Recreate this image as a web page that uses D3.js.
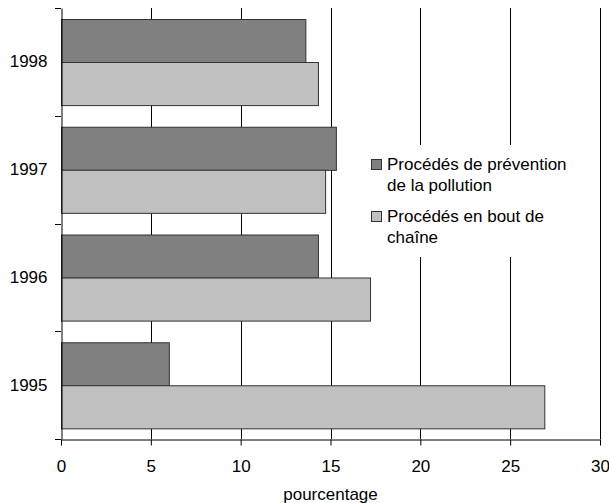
<!DOCTYPE html>
<html>
<head>
<meta charset="utf-8">
<script src="https://cdn.jsdelivr.net/npm/d3@7"></script>
<style>
  body { margin: 0; background: #fff; }
  text { font-family: "Liberation Sans", Arial, sans-serif; font-size: 17px; fill: #000; }
</style>
</head>
<body>
<div id="chart"></div>
<script>
/** Data **/
const years = ['1998', '1997', '1996', '1995'];
const series = ['Procédés de prévention de la pollution', 'Procédés en bout de chaîne'];
const prevention = [13.6, 15.3, 14.3, 6.0];
const endOfPipe = [14.3, 14.7, 17.2, 26.9];
const xTicks = [0, 5, 10, 15, 20, 25, 30];
const legendLines = [['Procédés de prévention', 'de la pollution'], ['Procédés en bout de', 'chaîne']];
const colors = ['#808080', '#c0c0c0'];

const rows = years.map((year, i) => ({ year, values: [prevention[i], endOfPipe[i]] }));

/** Svg **/
const width = 609;
const height = 503;
const margin = { top: 8, right: 9, bottom: 64, left: 61 };
const innerW = width - margin.left - margin.right;
const innerH = height - margin.top - margin.bottom;
const font = '"Liberation Sans", Arial, sans-serif';

const svg = d3
  .select('#chart')
  .append('svg')
  .attr('width', width)
  .attr('height', height);

const g = svg.append('g').attr('transform', `translate(${margin.left}, ${margin.top})`);

/** Scales **/
const x = d3.scaleLinear().domain([0, 30]).range([0, innerW]);
const y0 = d3.scaleBand().domain(years).range([0, innerH]);
const y1 = d3.scaleBand().domain(series).range([0, y0.bandwidth()]).paddingOuter(0.25);

/** Gridlines behind bars **/
g.append('g')
  .selectAll('line')
  .data(xTicks.slice(1))
  .join('line')
  .attr('x1', (d) => Math.round(x(d)) + 0.5)
  .attr('x2', (d) => Math.round(x(d)) + 0.5)
  .attr('y1', 0)
  .attr('y2', innerH)
  .attr('stroke', '#000')
  .attr('stroke-width', 1);

/** Bars **/
g.append('g')
  .selectAll('g')
  .data(rows)
  .join('g')
  .attr('transform', (d) => `translate(0, ${y0(d.year)})`)
  .selectAll('rect')
  .data((d) => d.values.map((v, i) => ({ key: series[i], value: v, i })))
  .join('rect')
  .attr('x', x(0) + 0.5)
  .attr('y', (d) => Math.round(y1(d.key)) + 0.5)
  .attr('width', (d) => x(d.value) - x(0))
  .attr('height', y1.bandwidth())
  .attr('fill', (d) => colors[d.i])
  .attr('stroke', '#333')
  .attr('stroke-width', 1);

/** Axes **/
const xAxis = g
  .append('g')
  .attr('transform', `translate(0, ${Math.round(innerH) + 0.5})`)
  .call(d3.axisBottom(x).tickValues(xTicks).tickSize(6).tickPadding(14).tickSizeOuter(0));
xAxis.selectAll('line, path').attr('stroke', '#000');
xAxis.selectAll('text').style('font-size', '17px').style('font-family', font);

const yAxis = g
  .append('g')
  .attr('transform', 'translate(0.5, 0)')
  .call(d3.axisLeft(y0).tickSize(0).tickPadding(14));
yAxis.select('.domain').attr('stroke', '#000');
yAxis.selectAll('text').style('font-size', '17px').style('font-family', font);

// category boundary ticks
const bounds = years.map((d) => y0(d)).concat([innerH]);
g.append('g')
  .selectAll('line')
  .data(bounds)
  .join('line')
  .attr('x1', -6)
  .attr('x2', 0)
  .attr('y1', (d) => Math.round(d) + 0.5)
  .attr('y2', (d) => Math.round(d) + 0.5)
  .attr('stroke', '#000');

/** Axis title **/
svg
  .append('text')
  .attr('x', margin.left + innerW / 2)
  .attr('y', 500)
  .attr('text-anchor', 'middle')
  .text('pourcentage');

/** Legend **/
const legend = svg.append('g');
legend
  .append('rect')
  .attr('x', 340)
  .attr('y', 145)
  .attr('width', 252)
  .attr('height', 112)
  .attr('fill', '#fff');

const item = legend
  .selectAll('g')
  .data(legendLines)
  .join('g')
  .attr('transform', (d, i) => `translate(371, ${159 + i * 52})`);

item
  .append('rect')
  .attr('x', 0.5)
  .attr('y', 0.5)
  .attr('width', 10)
  .attr('height', 10)
  .attr('fill', (d, i) => colors[i])
  .attr('stroke', '#333');

item
  .selectAll('text')
  .data((d) => d)
  .join('text')
  .attr('x', 16)
  .attr('y', (d, i) => 11 + i * 21)
  .text((d) => d);
</script>
</body>
</html>
